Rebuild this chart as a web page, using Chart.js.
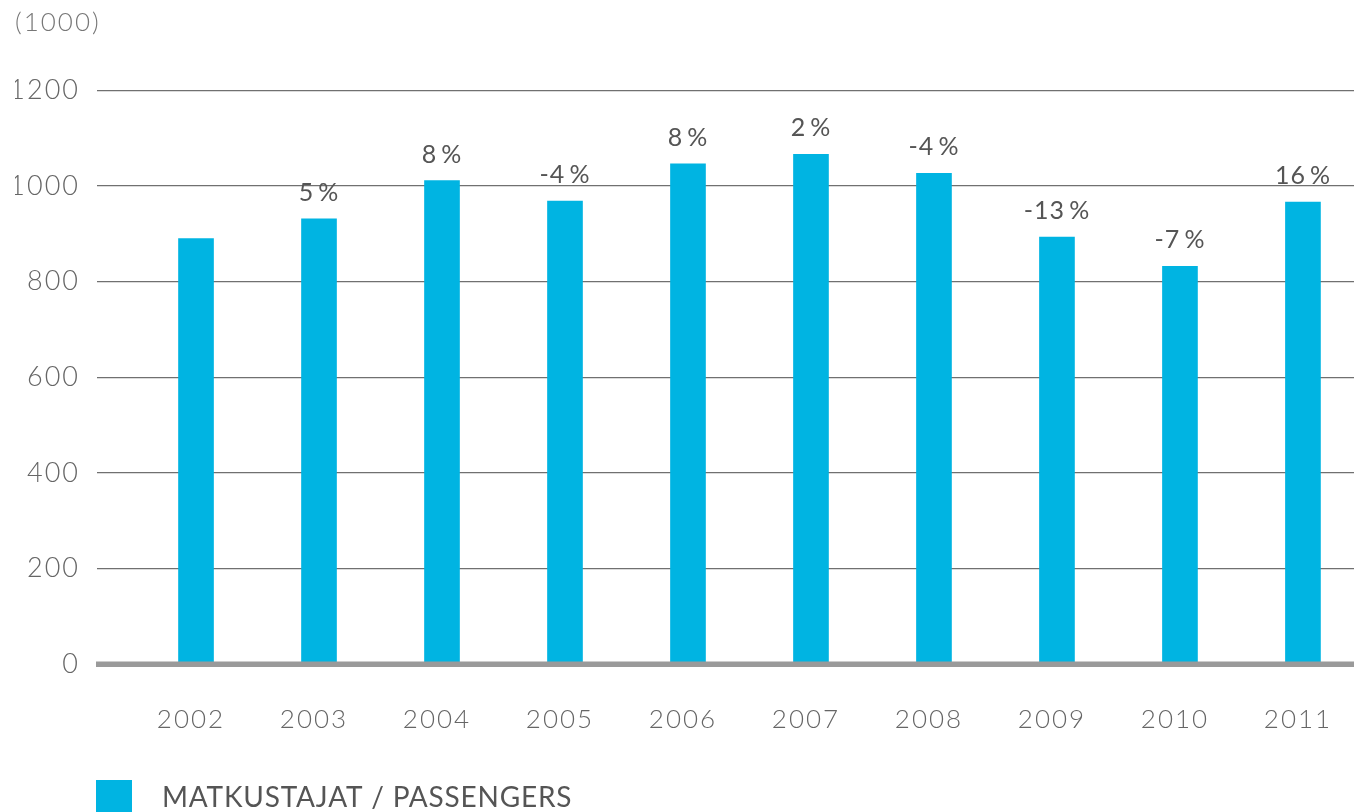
<!DOCTYPE html>
<html>
<head>
<meta charset="utf-8">
<script src="https://cdn.jsdelivr.net/npm/chart.js@4.4.0/dist/chart.umd.min.js"></script>
<style>
  html, body { margin: 0; padding: 0; background: #fff; overflow: hidden; }
  #wrap { width: 1354px; height: 812px; position: relative; }
</style>
</head>
<body>
<div id="wrap"><canvas id="passengers"></canvas></div>
<script>
// data, thousands of passengers
const years = [2002, 2003, 2004, 2005, 2006, 2007, 2008, 2009, 2010, 2011];
const passengers = [890, 931, 1011, 968, 1046, 1066, 1026, 893, 832, 966];
const changes = [null, 5, 8, -4, 8, 2, -4, -13, -7, 16];
const yTicks = [0, 200, 400, 600, 800, 1000, 1200];
const unitLabel = '(1000)';
const seriesLabel = 'MATKUSTAJAT / PASSENGERS';

const FONT = 'Lato, "Open Sans", sans-serif';
const BAR_COLOR = '#00b4e2';

// the original type is wider than Lato, open it up a little
const spacing = {
    id: 'spacing',
    beforeDraw(chart) {
        chart.ctx.letterSpacing = '2px';
    }
};

// percent change above each bar
const changeLabels = {
    id: 'changeLabels',
    afterDatasetsDraw(chart) {
        const ctx = chart.ctx;
        const meta = chart.getDatasetMeta(0);
        ctx.save();
        ctx.letterSpacing = '1px';
        ctx.font = '400 25px ' + FONT;
        ctx.fillStyle = '#555';
        ctx.textAlign = 'center';
        ctx.textBaseline = 'alphabetic';
        meta.data.forEach((bar, i) => {
            if (changes[i] === null) return;
            ctx.fillText(changes[i] + '\u2009%', bar.x, bar.y - 18);
        });
        ctx.restore();
    }
};

// thick zero line over the bar feet
const baseLine = {
    id: 'baseLine',
    afterDatasetsDraw(chart) {
        const ctx = chart.ctx;
        const area = chart.chartArea;
        const y = chart.scales.y.getPixelForValue(0);
        ctx.save();
        ctx.strokeStyle = '#9a9a9a';
        ctx.lineWidth = 5.5;
        ctx.beginPath();
        ctx.moveTo(area.left - 1, y);
        ctx.lineTo(area.right, y);
        ctx.stroke();
        ctx.restore();
    }
};

// legend at the foot, starting at the plot's left edge
const bottomLegend = {
    id: 'bottomLegend',
    afterDraw(chart) {
        const ctx = chart.ctx;
        const ds = chart.data.datasets[0];
        const x0 = chart.chartArea.left - 1;
        const y0 = chart.height - 32;
        ctx.save();
        ctx.fillStyle = ds.backgroundColor;
        ctx.fillRect(x0, y0, 36, 36);
        ctx.letterSpacing = '0.8px';
        ctx.font = '400 28px ' + FONT;
        ctx.fillStyle = '#555';
        ctx.textAlign = 'left';
        ctx.textBaseline = 'alphabetic';
        ctx.fillText(ds.label, x0 + 66, y0 + 27);
        ctx.restore();
    }
};

const ctx = document.getElementById('passengers');

new Chart(ctx, {
    type: 'bar',
    data: {
        datasets: [{
            label: seriesLabel,
            data: years.map((y, i) => ({x: y, y: passengers[i]})),
            backgroundColor: BAR_COLOR,
            barThickness: 35,
            borderWidth: 0
        }]
    },
    options: {
        responsive: true,
        maintainAspectRatio: false,
        animation: false,
        devicePixelRatio: 1,
        layout: {padding: {left: 15, right: 0, top: 0, bottom: 36.5}},
        scales: {
            x: {
                type: 'linear',
                offset: false,
                min: 2001.195,
                max: 2011.415,
                afterBuildTicks: (scale) => {
                    scale.ticks = years.map(v => ({value: v}));
                },
                afterFit: (scale) => {
                    scale.paddingLeft = 0;
                    scale.paddingRight = 0;
                },
                grid: {display: false, drawTicks: false, offset: false},
                border: {display: false},
                ticks: {
                    autoSkip: false,
                    maxRotation: 0,
                    padding: 40,
                    labelOffset: -5,
                    color: '#666',
                    font: {family: FONT, size: 26, weight: 300},
                    callback: (v) => String(v)
                }
            },
            y: {
                min: 0,
                max: 1200,
                afterBuildTicks: (scale) => {
                    scale.ticks = yTicks.map(v => ({value: v}));
                },
                afterFit: (scale) => {
                    scale.width = 82;
                },
                grid: {
                    drawTicks: false,
                    color: (c) => c.tick && c.tick.value === 0 ? 'rgba(0,0,0,0)' : '#707070',
                    lineWidth: 1.2
                },
                border: {display: false},
                ticks: {
                    padding: 17,
                    color: '#666',
                    font: {family: FONT, size: 27, weight: 300},
                    callback: (v) => String(v)
                }
            }
        },
        plugins: {
            legend: {display: false},
            tooltip: {enabled: false},
            title: {
                display: true,
                text: unitLabel,
                align: 'start',
                color: '#777',
                font: {family: FONT, size: 26, weight: 300},
                padding: {top: 7, bottom: 52}
            }
        }
    },
    plugins: [spacing, baseLine, changeLabels, bottomLegend]
});
</script>
</body>
</html>
